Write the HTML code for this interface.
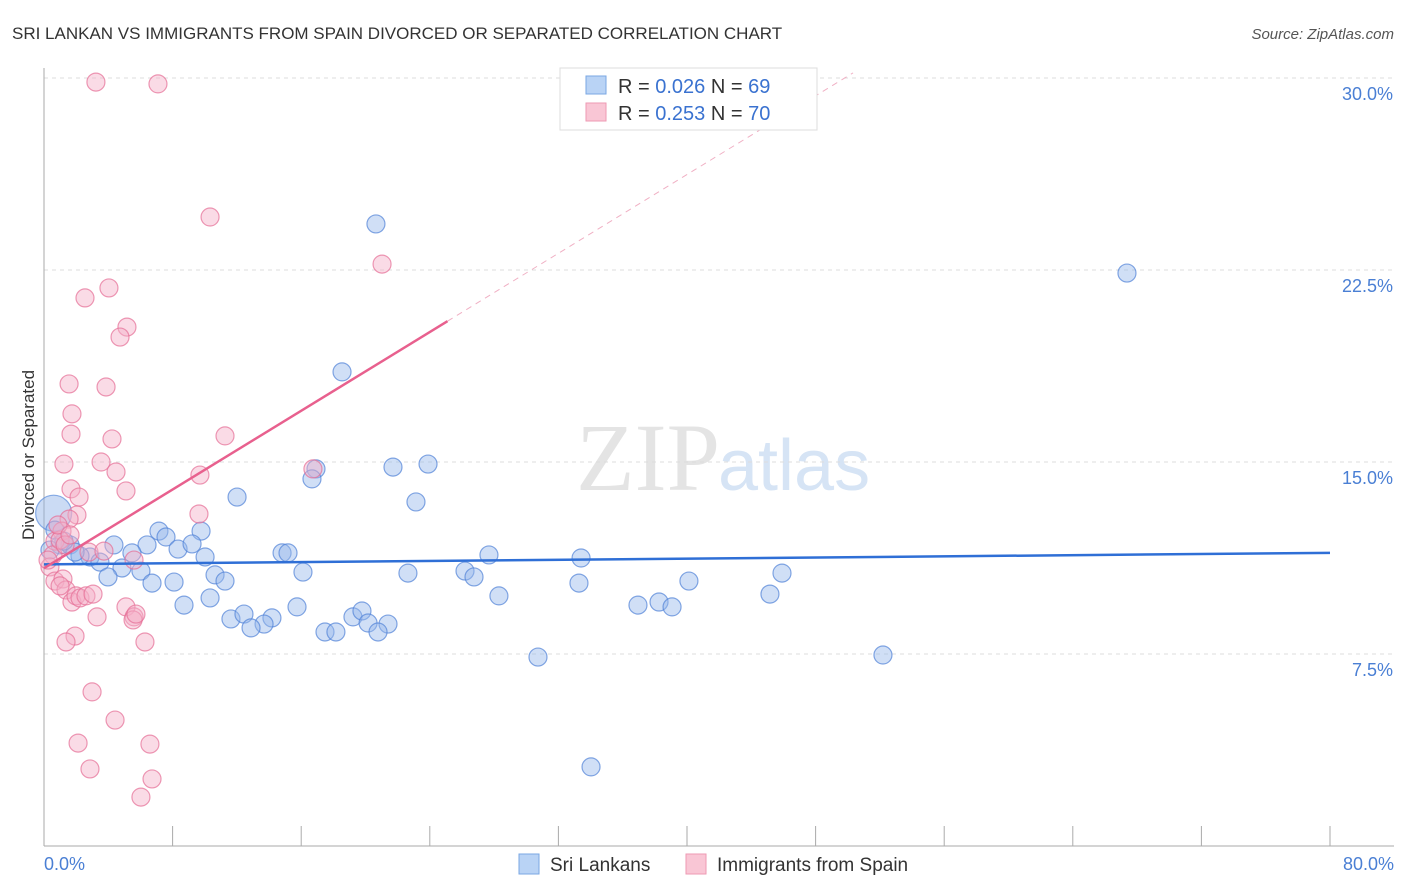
<!DOCTYPE html>
<html><head><meta charset="utf-8"><style>
body{margin:0;background:#fff;font-family:"Liberation Sans",sans-serif;}
svg{display:block}
</style></head><body>
<svg id="chart" width="1406" height="892" xmlns="http://www.w3.org/2000/svg">
<text x="12" y="39" font-size="17" fill="#333">SRI LANKAN VS IMMIGRANTS FROM SPAIN DIVORCED OR SEPARATED CORRELATION CHART</text>
<text x="1394" y="39" font-size="15" fill="#555" text-anchor="end" font-style="italic">Source: ZipAtlas.com</text>
<text x="720" y="490" font-size="96" fill="#e4e4e4" text-anchor="end" font-family="Liberation Serif, serif">ZIP</text>
<text x="718" y="490" font-size="72" fill="#d6e4f5">atlas</text>
<g id="grid"></g>
<line x1="44" y1="68" x2="44" y2="846" stroke="#aaa"/>
<line x1="44" y1="846" x2="1394" y2="846" stroke="#aaa"/>
<text transform="translate(34,455) rotate(-90)" font-size="17" fill="#333" text-anchor="middle">Divorced or Separated</text>
<text x="44" y="870" font-size="18" fill="#4a7fd4">0.0%</text>
<text x="1394" y="870" font-size="18" fill="#4a7fd4" text-anchor="end">80.0%</text>
<g id="points"></g>
<g id="trends"></g>
<g>
<rect x="560" y="68" width="257" height="62" fill="#fff" stroke="#ddd"/>
<rect x="586" y="76" width="20" height="18" fill="#b9d3f5" stroke="#7aa7e3"/>
<rect x="586" y="103" width="20" height="18" fill="#f9c6d5" stroke="#ee9ab3"/>
<text x="618" y="93" font-size="20" fill="#333">R = <tspan fill="#3a72d0">0.026</tspan>   N = <tspan fill="#3a72d0">69</tspan></text>
<text x="618" y="120" font-size="20" fill="#333">R = <tspan fill="#3a72d0">0.253</tspan>   N = <tspan fill="#3a72d0">70</tspan></text>
</g>
<g>
<rect x="519" y="854" width="20" height="20" fill="#b9d3f5" stroke="#7aa7e3"/>
<text x="550" y="871" font-size="19" fill="#333">Sri Lankans</text>
<rect x="686" y="854" width="20" height="20" fill="#f9c6d5" stroke="#ee9ab3"/>
<text x="717" y="871" font-size="19" fill="#333">Immigrants from Spain</text>
</g>
</svg>
<script>
const yTicks=[7.5,15,22.5,30];
const xTicks=[0,8,16,24,32,40,48,56,64,72,80];
const bluePx=[[376,224],[1127,273],[342,372],[393,467],[428,464],[316,469],[312,479],[237,497],[416,502],[159,531],[201,531],[166,537],[114,545],[147,545],[178,549],[192,544],[282,553],[288,553],[205,557],[132,553],[489,555],[581,558],[90,557],[100,562],[122,568],[141,571],[108,577],[215,575],[225,581],[303,572],[408,573],[465,571],[474,577],[152,583],[174,582],[579,583],[689,581],[782,573],[210,598],[184,605],[499,596],[770,594],[297,607],[638,605],[659,602],[672,607],[231,619],[244,614],[272,618],[264,624],[251,628],[353,617],[362,611],[368,623],[388,624],[325,632],[336,632],[378,632],[538,657],[883,655],[591,767],[55,530],[60,545],[70,545],[80,556],[50,550],[75,552],[64,541]];
const pinkPx=[[96,82],[158,84],[210,217],[382,264],[85,298],[109,288],[127,327],[120,337],[69,384],[106,387],[72,414],[71,434],[112,439],[225,436],[64,464],[101,462],[116,472],[71,489],[79,497],[126,491],[313,469],[200,475],[199,514],[77,515],[69,519],[62,531],[55,541],[53,555],[50,567],[55,581],[63,579],[66,590],[60,586],[89,552],[104,551],[134,560],[72,602],[76,596],[80,598],[86,596],[93,594],[97,617],[126,607],[134,617],[133,620],[136,614],[75,636],[66,642],[145,642],[92,692],[115,720],[78,743],[150,744],[90,769],[152,779],[141,797],[60,540],[65,545],[48,560],[58,525],[70,535]];
// data values (x %, y %)
const blueX=bluePx.map(p=>+((p[0]-44)/16.075).toFixed(2)), blueY=bluePx.map(p=>+((846-p[1])/25.6).toFixed(2));
const pinkX=pinkPx.map(p=>+((p[0]-44)/16.075).toFixed(2)), pinkY=pinkPx.map(p=>+((846-p[1])/25.6).toFixed(2));
const blueTrend=[11.0,11.45];   // y at x=0 and x=80
const pinkTrend=[10.85,20.5];   // y at x=0 and x=25.1
const pinkTrendX=[0,25.1];
const NS="http://www.w3.org/2000/svg";
const X=v=>44+v*16.075, Y=v=>846-v*25.6;
const g=document.getElementById('grid');
yTicks.forEach(t=>{
 const l=document.createElementNS(NS,'line');
 l.setAttribute('x1',44);l.setAttribute('x2',1394);l.setAttribute('y1',Y(t));l.setAttribute('y2',Y(t));
 l.setAttribute('stroke','#ddd');l.setAttribute('stroke-dasharray','4,4');
 
 
 g.appendChild(l);
 const s=document.createElementNS(NS,'text');
 s.setAttribute('x',1393);s.setAttribute('y',Y(t)+22);s.setAttribute('text-anchor','end');
 s.setAttribute('font-size','18');s.setAttribute('fill','#4a7fd4');s.textContent=t.toFixed(1)+'%';
 
 
 g.appendChild(s);
});
xTicks.forEach(t=>{
 const l=document.createElementNS(NS,'line');
 l.setAttribute('x1',X(t));l.setAttribute('x2',X(t));l.setAttribute('y1',826);l.setAttribute('y2',846);
 l.setAttribute('stroke','#aaa');
 
 
 g.appendChild(l);
});
const pts=document.getElementById('points');
function dot(x,y,r,fill,stroke,name){
 const c=document.createElementNS(NS,'circle');
 c.setAttribute('cx',X(x));c.setAttribute('cy',Y(y));c.setAttribute('r',r);
 c.setAttribute('fill',fill);c.setAttribute('stroke',stroke);c.setAttribute('stroke-width','1.2');
 
 
 pts.appendChild(c);
}
dot(0.6,13,18,'rgba(140,175,230,0.45)','rgba(90,140,220,0.7)','sri-lankan-point');
blueX.forEach((x,i)=>dot(x,blueY[i],9,'rgba(150,185,235,0.45)','rgba(80,130,215,0.7)','sri-lankan-point'));
pinkX.forEach((x,i)=>dot(x,pinkY[i],9,'rgba(245,175,200,0.45)','rgba(230,110,150,0.7)','spain-immigrant-point'));
const tr=document.getElementById('trends');
function line(x1,y1,x2,y2,col,w,dash,name){
 const l=document.createElementNS(NS,'line');
 l.setAttribute('x1',X(x1));l.setAttribute('y1',Y(y1));l.setAttribute('x2',X(x2));l.setAttribute('y2',Y(y2));
 l.setAttribute('stroke',col);l.setAttribute('stroke-width',w);if(dash)l.setAttribute('stroke-dasharray',dash);
 
 
 tr.appendChild(l);
}
line(0,blueTrend[0],80,blueTrend[1],'#2f6fd6',2.5,null,'sri-lankan-trendline');
const slope=(pinkTrend[1]-pinkTrend[0])/(pinkTrendX[1]-pinkTrendX[0]);
const xEnd=(30.2-pinkTrend[0])/slope;
line(pinkTrendX[1],pinkTrend[1],xEnd,30.2,'#f0b0c4',1,'6,5','spain-trendline-extension');
line(pinkTrendX[0],pinkTrend[0],pinkTrendX[1],pinkTrend[1],'#e8608e',2.5,null,'spain-trendline');
</script>
</body></html>
